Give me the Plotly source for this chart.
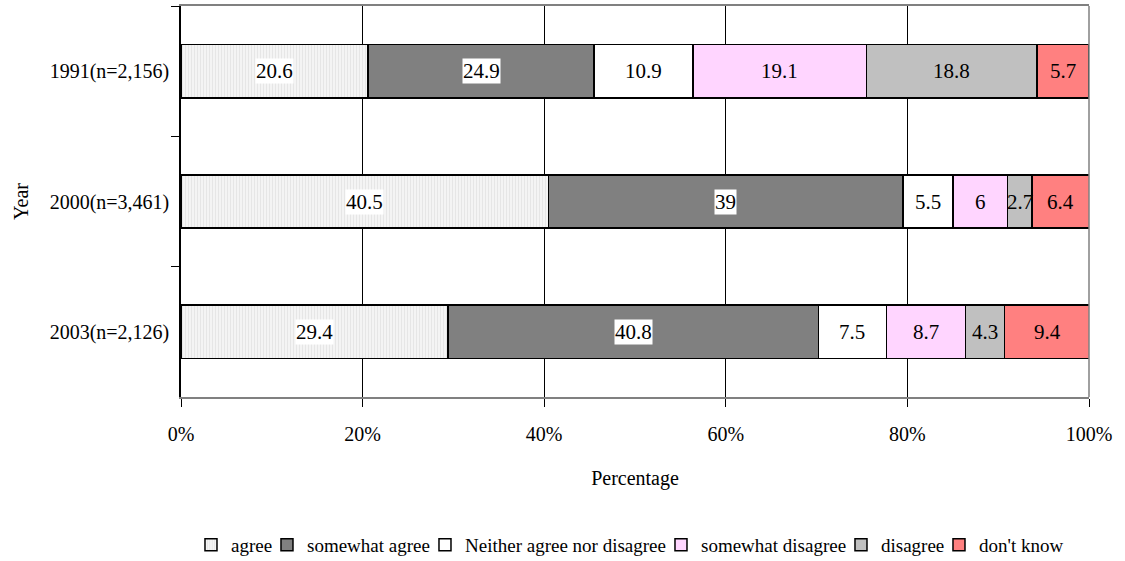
import plotly.graph_objects as go

years = ["1991(n=2,156)", "2000(n=3,461)", "2003(n=2,126)"]
responses = ["agree", "somewhat agree", "Neither agree nor disagree",
             "somewhat disagree", "disagree", "don't know"]
agree = [20.6, 40.5, 29.4]
somewhat_agree = [24.9, 39, 40.8]
neither = [10.9, 5.5, 7.5]
somewhat_disagree = [19.1, 6, 8.7]
disagree = [18.8, 2.7, 4.3]
dont_know = [5.7, 6.4, 9.4]
x_ticks = [0, 20, 40, 60, 80, 100]
x_tick_labels = ["0%", "20%", "40%", "60%", "80%", "100%"]

series = [agree, somewhat_agree, neither, somewhat_disagree, disagree, dont_know]
colors = ["#f2f2f2", "#808080", "#ffffff", "#ffd5ff", "#c0c0c0", "#ff8080"]
label_bg = [True, True, False, False, False, False]
# compact legend entry widths (px) so all six entries sit on one row
legend_widths = [31, 113, 191, 135, 53, 88]

FONT = "Liberation Serif, Times New Roman, serif"

fig = go.Figure()
for name, vals, col, lw in zip(responses, series, colors, legend_widths):
    marker = dict(color=col, line=dict(color="black", width=1.5))
    if name == "agree":
        marker["pattern"] = dict(shape="|", fgcolor="#cfcfcf", bgcolor="#f4f4f4",
                                 size=3, solidity=0.25)
    fig.add_trace(go.Bar(
        y=years, x=vals, name=name, orientation="h",
        marker=marker, width=0.41, legendwidth=lw,
    ))

# value labels centred in each segment
cum = [0.0] * len(years)
for vals, bg in zip(series, label_bg):
    for i, v in enumerate(vals):
        fig.add_annotation(
            x=cum[i] + v / 2, y=years[i], text=str(v), showarrow=False,
            font=dict(family=FONT, size=21, color="black"),
            bgcolor="white" if bg else "rgba(0,0,0,0)", borderpad=0,
        )
        cum[i] += v

# right border of the plot area
fig.add_shape(type="line", xref="paper", yref="paper", x0=1, x1=1, y0=0, y1=1,
              line=dict(color="#808080", width=1.5))

fig.update_layout(
    barmode="stack",
    width=1125, height=561,
    margin=dict(l=181, r=36, t=6, b=164, autoexpand=False),
    paper_bgcolor="white", plot_bgcolor="white",
    font=dict(family=FONT, size=20, color="black"),
    showlegend=True,
    legend=dict(orientation="h", x=0.011, xanchor="left", y=-0.3785, yanchor="middle",
                font=dict(family=FONT, size=19), itemwidth=30,
                traceorder="normal"),
    xaxis=dict(
        range=[0, 100], tickvals=x_ticks, ticktext=x_tick_labels,
        showgrid=True, gridcolor="black", gridwidth=1,
        showline=True, linecolor="#808080", linewidth=2, mirror=True,
        ticks="outside", ticklen=8, tickcolor="black",
        tickfont=dict(size=20), zeroline=False, ticklabelstandoff=10,
        title=dict(text="Percentage", font=dict(size=20), standoff=27),
    ),
    yaxis=dict(
        categoryorder="array", categoryarray=years, autorange="reversed",
        showline=True, linecolor="black", linewidth=1.5,
        ticks="outside", ticklen=8, tickcolor="black", tickson="boundaries",
        ticklabelstandoff=6, showgrid=False,
        tickfont=dict(size=20),
        title=dict(text="Year", font=dict(size=20), standoff=16),
    ),
)

fig.write_html("out.html")
